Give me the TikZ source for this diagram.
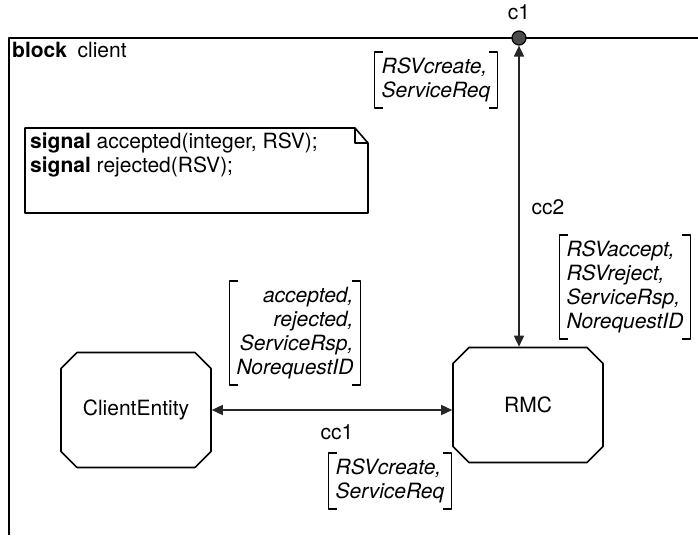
\documentclass[tikz,border=0pt]{standalone}
\usepackage{fontspec}
\setmainfont{TeX Gyre Heros}
\usetikzlibrary{arrows.meta,shapes.misc}

\begin{document}
\begin{tikzpicture}[x=1pt,y=-1pt,font=\fontsize{21}{24}\selectfont,line join=round,
		>={Triangle[length=11pt,width=10pt]},
		process/.style={draw,line width=1.6pt,chamfered rectangle,chamfered rectangle xsep=8pt,chamfered rectangle ysep=8pt,minimum width=150pt,minimum height=115pt,inner sep=0pt},
		siglist/.style={font=\fontsize{21}{24}\selectfont\itshape,inner xsep=8pt,inner ysep=7pt,
			path picture={\draw[line width=1.3pt]
				([xshift=9pt,yshift=-1pt]path picture bounding box.north west) -- ++(-8pt,0) |- ([xshift=9pt,yshift=1pt]path picture bounding box.south west)
				([xshift=-9pt,yshift=-1pt]path picture bounding box.north east) -- ++(8pt,0) |- ([xshift=-9pt,yshift=1pt]path picture bounding box.south east);}}]
	\useasboundingbox (0,0) rectangle (698,535);
	% block frame
	\draw[line width=1.8pt] (698,38) -- (9,38) -- (9,535);
	\node[anchor=base west,inner sep=0pt] (title) at (12,58) {\textbf{block}\hspace{0.5em}client};
	% gate
	\node[circle,draw,fill=black!70,line width=1.2pt,minimum size=14pt,inner sep=0pt] (c1) at (519,38) {};
	\node[anchor=base] (c1lab) at (519,20) {c1};
	% text symbol
	\node[minimum width=343pt,minimum height=85pt,outer sep=0pt,anchor=north west] (decl) at (25,128) {};
	\draw[line width=1.6pt] (decl.north west) -- ([xshift=-13pt]decl.north east) -- ([yshift=-15pt]decl.north east) -- (decl.south east) -- (decl.south west) -- cycle
		([xshift=-13pt]decl.north east) |- ([yshift=-15pt]decl.north east);
	\node[anchor=north west,align=left,inner sep=0pt] (decltext) at ([shift={(5pt,-5pt)}]decl.north west) {\textbf{signal} accepted(integer, RSV);\\\textbf{signal} rejected(RSV);};
	% processes
	\node[process] (ce) at (136,410) {ClientEntity};
	\node[process] (rmc) at (528,405) {RMC};
	% channels
	\draw[<->,line width=1.6pt,black!85] (ce.east) -- (ce.east -| rmc.west);
	\draw[<->,line width=1.6pt,black!85] (c1.south) -- (c1 |- rmc.north);
	\node (cc1) at (337,432) {cc1};
	\node (cc2) at (548,207) {cc2};
	% signal lists
	\node[siglist,align=left] (sig1) at (436,80) {RSVcreate,\\ServiceReq};
	\node[siglist,align=left] (sig2) at (625,287) {RSVaccept,\\RSVreject,\\ServiceRsp,\\NorequestID};
	\node[siglist,align=right] (sig3) at (295,333) {accepted,\\rejected,\\ServiceRsp,\\NorequestID};
	\node[siglist,align=left] (sig4) at (390,481) {RSVcreate,\\ServiceReq};
\end{tikzpicture}
\end{document}
